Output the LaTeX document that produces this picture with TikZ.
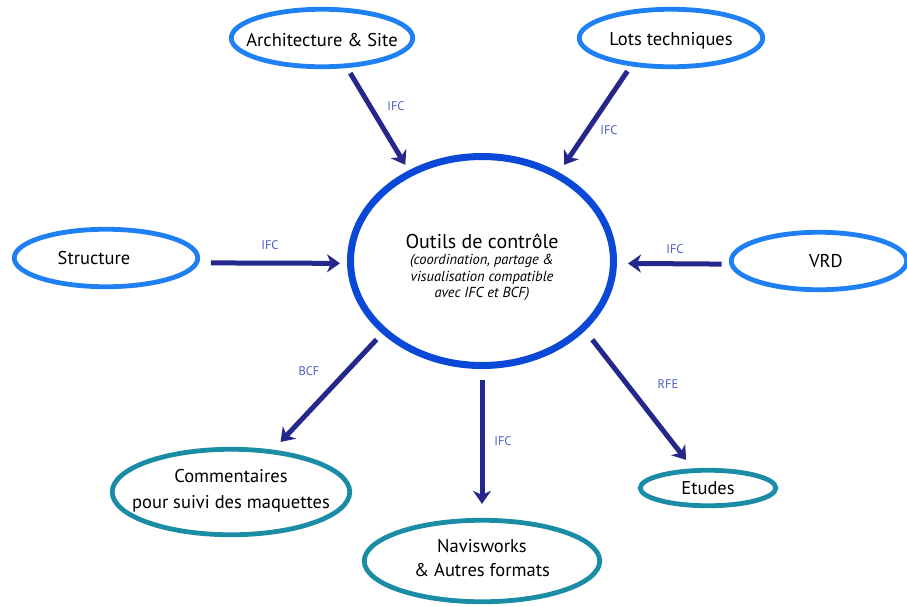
\documentclass[tikz,border=0pt]{standalone}
\usepackage{fontspec}
\setmainfont{PT Sans}
\usetikzlibrary{arrows.meta,shapes.geometric}
\definecolor{topblue}{HTML}{1E80F2}
\definecolor{ctrblue}{HTML}{0A48D8}
\definecolor{tealc}{HTML}{1A8CA6}
\definecolor{arrowc}{HTML}{24288A}
\definecolor{lblc}{HTML}{4D5DC0}
\begin{document}
\begin{tikzpicture}[x=1pt,y=-1pt,
  ell/.style={ellipse, inner sep=0pt, line width=4.8pt},
  topell/.style={ell, draw=topblue},
  botell/.style={ell, draw=tealc},
  txt/.style={font=\fontsize{18.5}{24}\selectfont, align=center, text=black},
  arr/.style={draw=arrowc, line width=5pt, -{Stealth[length=13pt,width=18pt,inset=4pt]}},
  lbl/.style={font=\fontsize{12.5}{14}\selectfont, text=lblc}]
\useasboundingbox (0,0) rectangle (907,606);

\node[topell, minimum width=181.5pt, minimum height=57.5pt,
  label={[txt, yshift=-2pt]center:Architecture \& Site}] (arch) at (322,38) {};
\node[topell, minimum width=183.5pt, minimum height=57.5pt,
  label={[txt, yshift=-3pt]center:Lots techniques}] (lots) at (671,38) {};
\node[topell, minimum width=183.5pt, minimum height=57.5pt,
  label={[txt, xshift=-12pt]center:Structure}] (struct) at (106,258) {};
\node[topell, minimum width=175.5pt, minimum height=57.5pt,
  label={[txt, xshift=7pt]center:VRD}] (vrd) at (819,261) {};

\node[ell, draw=ctrblue, line width=7pt, minimum width=263pt, minimum height=209pt,
  label={[align=center, yshift=-6pt, font=\fontsize{14.5}{17}\selectfont\itshape]center:{\fontsize{20}{22}\selectfont\upshape Outils de contrôle}\\[-1pt]
  (coordination, partage \&\\
  visualisation compatible\\[-1pt]
  avec IFC et BCF)}] (ctr) at (482,261) {};

\node[botell, minimum width=237.5pt, minimum height=85.5pt,
  label={[txt, yshift=1pt]center:Commentaires\\[2pt]pour suivi des maquettes}] (comm) at (231,492) {};
\node[botell, minimum width=235.5pt, minimum height=81.5pt,
  label={[txt, yshift=3pt]center:Navisworks\\\& Autres formats}] (navis) at (482,561) {};
\node[botell, minimum width=135.5pt, minimum height=35.5pt,
  label={[txt]center:Etudes}] (etud) at (708,488) {};

\draw[arr, shorten <=6pt, shorten >=6.5pt] (arch.-50) -- (ctr.129);
\draw[arr, shorten <=6pt, shorten >=9pt] (lots.215) -- (ctr.49);
\draw[arr, shorten <=12pt, shorten >=7pt] (struct.-3.7) -- (ctr.181.3);
\draw[arr, shorten <=7.7pt, shorten >=11pt] (vrd.182.6) -- (ctr.-1.7);
\draw[arr, shorten <=8pt, shorten >=10.6pt] (ctr.216.3) -- (comm.45.4);
\draw[arr, shorten <=11pt, shorten >=14pt] (ctr.-90) -- (navis.90);
\draw[arr, shorten <=11.5pt, shorten >=10.7pt] (ctr.-34.2) -- (etud.128.2);

\node[lbl] (l1) at (396,106) {IFC};
\node[lbl] (l2) at (609,130) {IFC};
\node[lbl] (l3) at (270,245) {IFC};
\node[lbl] (l4) at (675,249) {IFC};
\node[lbl] (l5) at (309,371) {BCF};
\node[lbl] (l6) at (503,441) {IFC};
\node[lbl] (l7) at (668,384) {RFE};
\end{tikzpicture}
\end{document}
